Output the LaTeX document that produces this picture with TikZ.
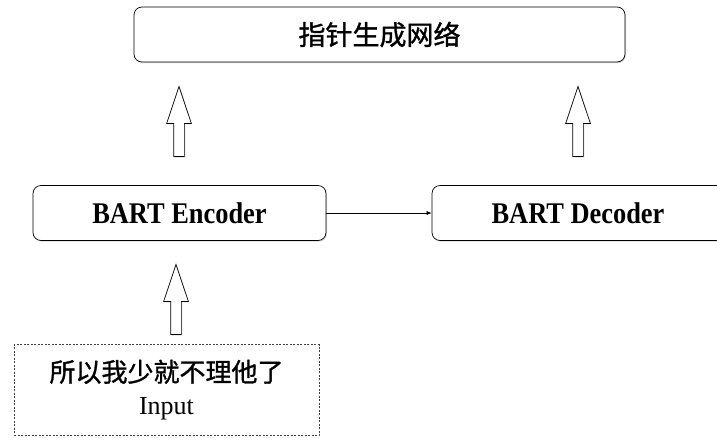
\documentclass[tikz,border=0pt]{standalone}
\usepackage{fontspec}
\setmainfont{Liberation Serif}
\newfontfamily\cjk[FakeBold=1.2]{Noto Sans CJK SC}
\newfontfamily\narrowserif[FakeStretch=0.88]{Liberation Serif}
\usetikzlibrary{arrows.meta,shapes.arrows,shadows}

\begin{document}
\begin{tikzpicture}[
    x=1pt,y=-1pt,
    box/.style={draw,rounded corners=8pt,line width=0.7pt,fill=white,minimum height=55pt,align=center,
        drop shadow={opacity=0.3,shadow xshift=1pt,shadow yshift=-1.2pt}},
    inbox/.style={draw=black!75,dashed,dash pattern=on 2pt off 1.5pt,line width=0.6pt,
        minimum width=305pt,minimum height=91pt,align=center,font=\fontsize{26}{33}\selectfont},
    uparrow/.style={single arrow,draw,line width=0.7pt,fill=white,rotate=90,inner xsep=0pt,inner ysep=5pt,
        minimum height=70pt,minimum width=24pt,single arrow head extend=7pt,
        single arrow tip angle=37,
        drop shadow={opacity=0.25,shadow xshift=1pt,shadow yshift=-1pt}},
    ->/.style={-{Latex[length=5pt,width=4pt]}},
    bartfont/.style={font=\fontsize{30}{34}\selectfont\narrowserif\bfseries},
]
\useasboundingbox (0,0) rectangle (717,437);

% boxes
\node[box,minimum width=491pt,font=\fontsize{27}{30}\selectfont\cjk] (ptr) at (379.5,34.5) {指针生成网络};
\node[box,minimum width=293pt,bartfont] (enc) at (179.5,213) {BART Encoder};
\node[box,minimum width=292pt,bartfont] (dec) at (578,213) {BART Decoder};
\node[inbox] (inp) at (166.5,390) {{\cjk 所以我少就不理他了}\\Input};

% block arrows
\node[uparrow] (up_enc) at (179,129.5) {};
\node[uparrow] (up_dec) at (578,129.5) {};
\node[uparrow] (up_inp) at (176,307.5) {};

% arrow
\draw[->,line width=0.5pt] (enc.east) -- (dec.west);

\end{tikzpicture}
\end{document}
